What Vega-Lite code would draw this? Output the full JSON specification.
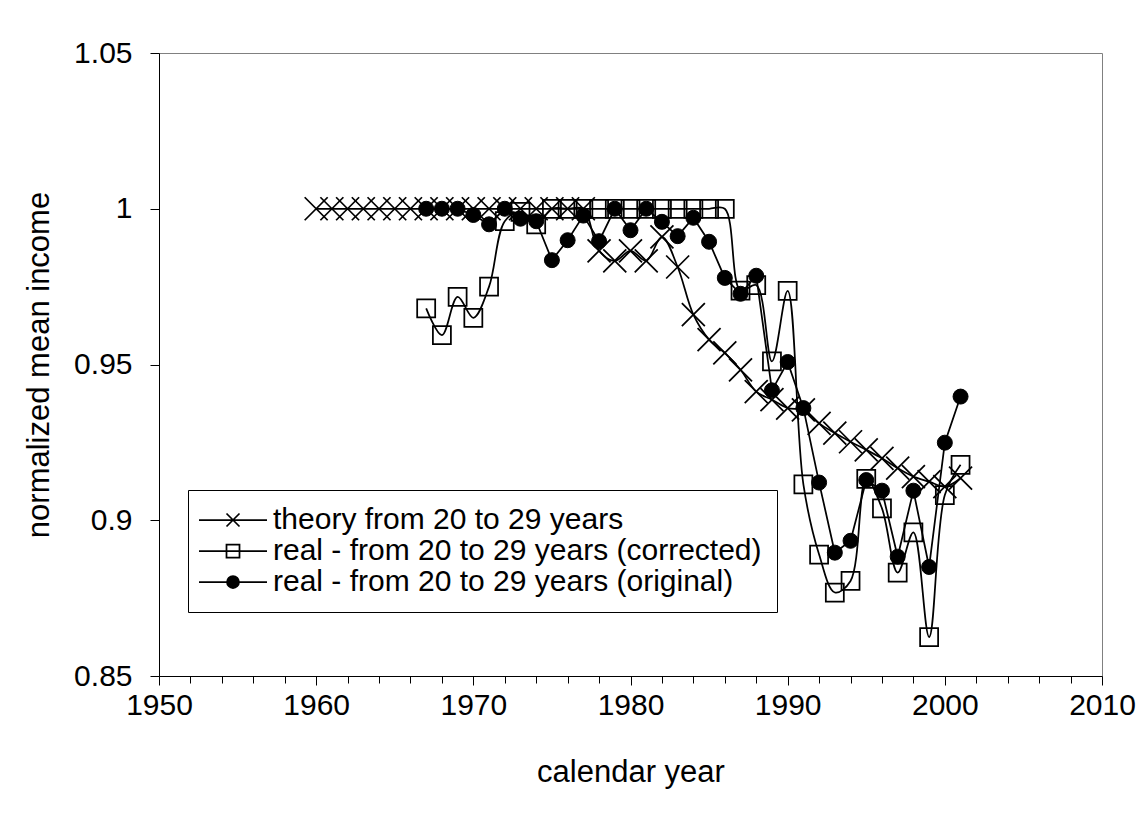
{
  "$schema": "https://vega.github.io/schema/vega-lite/v6.json",
  "autosize": {"type": "none"},
  "width": 943,
  "height": 623,
  "padding": {"left": 159, "top": 53, "right": 39, "bottom": 161},
  "background": "white",
  "config": {
    "view": {"stroke": "#808080", "strokeWidth": 1},
    "font": "Liberation Sans",
    "axis": {
      "grid": false,
      "domainColor": "black",
      "tickColor": "black",
      "labelColor": "black",
      "titleColor": "black",
      "labelFont": "Liberation Sans",
      "titleFont": "Liberation Sans",
      "labelFontSize": 30,
      "titleFontSize": 31,
      "titleFontWeight": "normal"
    },
    "legend": {
      "orient": "none",
      "legendX": 29,
      "legendY": 437,
      "padding": 15,
      "symbolSize": 100,
      "symbolStrokeWidth": 1.75,
      "symbolStrokeColor": "black",
      "symbolOffset": 15,
      "labelOffset": 25,
      "labelFont": "Liberation Sans",
      "labelFontSize": 30,
      "labelColor": "black",
      "labelLimit": 1000,
      "rowPadding": 1,
      "strokeColor": "black",
      "fillColor": "white"
    }
  },
  "data": {
    "values": [
      {"year": 1960, "series": "theory from 20 to 29 years", "value": 1.0},
      {"year": 1961, "series": "theory from 20 to 29 years", "value": 1.0},
      {"year": 1962, "series": "theory from 20 to 29 years", "value": 1.0},
      {"year": 1963, "series": "theory from 20 to 29 years", "value": 1.0},
      {"year": 1964, "series": "theory from 20 to 29 years", "value": 1.0},
      {"year": 1965, "series": "theory from 20 to 29 years", "value": 1.0},
      {"year": 1966, "series": "theory from 20 to 29 years", "value": 1.0},
      {"year": 1967, "series": "theory from 20 to 29 years", "value": 1.0},
      {"year": 1968, "series": "theory from 20 to 29 years", "value": 1.0},
      {"year": 1969, "series": "theory from 20 to 29 years", "value": 1.0},
      {"year": 1970, "series": "theory from 20 to 29 years", "value": 1.0},
      {"year": 1971, "series": "theory from 20 to 29 years", "value": 1.0},
      {"year": 1972, "series": "theory from 20 to 29 years", "value": 1.0},
      {"year": 1973, "series": "theory from 20 to 29 years", "value": 1.0},
      {"year": 1974, "series": "theory from 20 to 29 years", "value": 1.0},
      {"year": 1975, "series": "theory from 20 to 29 years", "value": 1.0},
      {"year": 1976, "series": "theory from 20 to 29 years", "value": 1.0},
      {"year": 1977, "series": "theory from 20 to 29 years", "value": 1.0},
      {"year": 1978, "series": "theory from 20 to 29 years", "value": 0.9865},
      {"year": 1979, "series": "theory from 20 to 29 years", "value": 0.9833},
      {"year": 1980, "series": "theory from 20 to 29 years", "value": 0.9865},
      {"year": 1981, "series": "theory from 20 to 29 years", "value": 0.9833},
      {"year": 1982, "series": "theory from 20 to 29 years", "value": 0.991},
      {"year": 1983, "series": "theory from 20 to 29 years", "value": 0.9813},
      {"year": 1984, "series": "theory from 20 to 29 years", "value": 0.966},
      {"year": 1985, "series": "theory from 20 to 29 years", "value": 0.958},
      {"year": 1986, "series": "theory from 20 to 29 years", "value": 0.9537},
      {"year": 1987, "series": "theory from 20 to 29 years", "value": 0.9483},
      {"year": 1988, "series": "theory from 20 to 29 years", "value": 0.9413},
      {"year": 1989, "series": "theory from 20 to 29 years", "value": 0.9387},
      {"year": 1990, "series": "theory from 20 to 29 years", "value": 0.936},
      {"year": 1991, "series": "theory from 20 to 29 years", "value": 0.9354},
      {"year": 1992, "series": "theory from 20 to 29 years", "value": 0.9311},
      {"year": 1993, "series": "theory from 20 to 29 years", "value": 0.928},
      {"year": 1994, "series": "theory from 20 to 29 years", "value": 0.9252},
      {"year": 1995, "series": "theory from 20 to 29 years", "value": 0.9226},
      {"year": 1996, "series": "theory from 20 to 29 years", "value": 0.9199},
      {"year": 1997, "series": "theory from 20 to 29 years", "value": 0.9167},
      {"year": 1998, "series": "theory from 20 to 29 years", "value": 0.914},
      {"year": 1999, "series": "theory from 20 to 29 years", "value": 0.9124},
      {"year": 2000, "series": "theory from 20 to 29 years", "value": 0.9108},
      {"year": 2001, "series": "theory from 20 to 29 years", "value": 0.9135},

      {"year": 1967, "series": "real - from 20 to 29 years (corrected)", "value": 0.968},
      {"year": 1968, "series": "real - from 20 to 29 years (corrected)", "value": 0.9594},
      {"year": 1969, "series": "real - from 20 to 29 years (corrected)", "value": 0.9717},
      {"year": 1970, "series": "real - from 20 to 29 years (corrected)", "value": 0.965},
      {"year": 1971, "series": "real - from 20 to 29 years (corrected)", "value": 0.975},
      {"year": 1972, "series": "real - from 20 to 29 years (corrected)", "value": 0.996},
      {"year": 1973, "series": "real - from 20 to 29 years (corrected)", "value": 0.999},
      {"year": 1974, "series": "real - from 20 to 29 years (corrected)", "value": 0.995},
      {"year": 1975, "series": "real - from 20 to 29 years (corrected)", "value": 1.0},
      {"year": 1976, "series": "real - from 20 to 29 years (corrected)", "value": 1.0},
      {"year": 1977, "series": "real - from 20 to 29 years (corrected)", "value": 1.0},
      {"year": 1978, "series": "real - from 20 to 29 years (corrected)", "value": 1.0},
      {"year": 1979, "series": "real - from 20 to 29 years (corrected)", "value": 1.0},
      {"year": 1980, "series": "real - from 20 to 29 years (corrected)", "value": 1.0},
      {"year": 1981, "series": "real - from 20 to 29 years (corrected)", "value": 1.0},
      {"year": 1982, "series": "real - from 20 to 29 years (corrected)", "value": 1.0},
      {"year": 1983, "series": "real - from 20 to 29 years (corrected)", "value": 1.0},
      {"year": 1984, "series": "real - from 20 to 29 years (corrected)", "value": 1.0},
      {"year": 1985, "series": "real - from 20 to 29 years (corrected)", "value": 1.0},
      {"year": 1986, "series": "real - from 20 to 29 years (corrected)", "value": 1.0},
      {"year": 1987, "series": "real - from 20 to 29 years (corrected)", "value": 0.9737},
      {"year": 1988, "series": "real - from 20 to 29 years (corrected)", "value": 0.9755},
      {"year": 1989, "series": "real - from 20 to 29 years (corrected)", "value": 0.951},
      {"year": 1990, "series": "real - from 20 to 29 years (corrected)", "value": 0.9736},
      {"year": 1991, "series": "real - from 20 to 29 years (corrected)", "value": 0.9115},
      {"year": 1992, "series": "real - from 20 to 29 years (corrected)", "value": 0.889},
      {"year": 1993, "series": "real - from 20 to 29 years (corrected)", "value": 0.8768},
      {"year": 1994, "series": "real - from 20 to 29 years (corrected)", "value": 0.8805},
      {"year": 1995, "series": "real - from 20 to 29 years (corrected)", "value": 0.9133},
      {"year": 1996, "series": "real - from 20 to 29 years (corrected)", "value": 0.9038},
      {"year": 1997, "series": "real - from 20 to 29 years (corrected)", "value": 0.8832},
      {"year": 1998, "series": "real - from 20 to 29 years (corrected)", "value": 0.8961},
      {"year": 1999, "series": "real - from 20 to 29 years (corrected)", "value": 0.8625},
      {"year": 2000, "series": "real - from 20 to 29 years (corrected)", "value": 0.9081},
      {"year": 2001, "series": "real - from 20 to 29 years (corrected)", "value": 0.9178},

      {"year": 1967, "series": "real - from 20 to 29 years (original)", "value": 1.0},
      {"year": 1968, "series": "real - from 20 to 29 years (original)", "value": 1.0},
      {"year": 1969, "series": "real - from 20 to 29 years (original)", "value": 1.0},
      {"year": 1970, "series": "real - from 20 to 29 years (original)", "value": 0.998},
      {"year": 1971, "series": "real - from 20 to 29 years (original)", "value": 0.995},
      {"year": 1972, "series": "real - from 20 to 29 years (original)", "value": 1.0},
      {"year": 1973, "series": "real - from 20 to 29 years (original)", "value": 0.9968},
      {"year": 1974, "series": "real - from 20 to 29 years (original)", "value": 0.996},
      {"year": 1975, "series": "real - from 20 to 29 years (original)", "value": 0.9835},
      {"year": 1976, "series": "real - from 20 to 29 years (original)", "value": 0.9899},
      {"year": 1977, "series": "real - from 20 to 29 years (original)", "value": 0.9978},
      {"year": 1978, "series": "real - from 20 to 29 years (original)", "value": 0.9896},
      {"year": 1979, "series": "real - from 20 to 29 years (original)", "value": 1.0},
      {"year": 1980, "series": "real - from 20 to 29 years (original)", "value": 0.9931},
      {"year": 1981, "series": "real - from 20 to 29 years (original)", "value": 1.0},
      {"year": 1982, "series": "real - from 20 to 29 years (original)", "value": 0.9958},
      {"year": 1983, "series": "real - from 20 to 29 years (original)", "value": 0.9912},
      {"year": 1984, "series": "real - from 20 to 29 years (original)", "value": 0.9971},
      {"year": 1985, "series": "real - from 20 to 29 years (original)", "value": 0.9894},
      {"year": 1986, "series": "real - from 20 to 29 years (original)", "value": 0.9778},
      {"year": 1987, "series": "real - from 20 to 29 years (original)", "value": 0.9727},
      {"year": 1988, "series": "real - from 20 to 29 years (original)", "value": 0.9785},
      {"year": 1989, "series": "real - from 20 to 29 years (original)", "value": 0.9417},
      {"year": 1990, "series": "real - from 20 to 29 years (original)", "value": 0.9508},
      {"year": 1991, "series": "real - from 20 to 29 years (original)", "value": 0.936},
      {"year": 1992, "series": "real - from 20 to 29 years (original)", "value": 0.9121},
      {"year": 1993, "series": "real - from 20 to 29 years (original)", "value": 0.8896},
      {"year": 1994, "series": "real - from 20 to 29 years (original)", "value": 0.8934},
      {"year": 1995, "series": "real - from 20 to 29 years (original)", "value": 0.9129},
      {"year": 1996, "series": "real - from 20 to 29 years (original)", "value": 0.9095},
      {"year": 1997, "series": "real - from 20 to 29 years (original)", "value": 0.8883},
      {"year": 1998, "series": "real - from 20 to 29 years (original)", "value": 0.9095},
      {"year": 1999, "series": "real - from 20 to 29 years (original)", "value": 0.885},
      {"year": 2000, "series": "real - from 20 to 29 years (original)", "value": 0.9249},
      {"year": 2001, "series": "real - from 20 to 29 years (original)", "value": 0.9397}
    ]
  },
  "encoding": {
    "x": {
      "field": "year",
      "type": "quantitative",
      "scale": {"domain": [1950, 2010], "nice": false, "zero": false},
      "axis": {
        "title": "calendar year",
        "values": [1950, 1952, 1954, 1956, 1958, 1960, 1962, 1964, 1966, 1968, 1970, 1972, 1974, 1976, 1978, 1980, 1982, 1984, 1986, 1988, 1990, 1992, 1994, 1996, 1998, 2000, 2002, 2004, 2006, 2008, 2010],
        "labelExpr": "datum.value % 10 === 0 ? '' + datum.value : ''",
        "labelOverlap": false,
        "labelFlush": false,
        "tickSize": {"condition": {"test": "datum.value % 10 === 0", "value": 9}, "value": 7},
        "labelPadding": 5,
        "titlePadding": 37
      }
    },
    "y": {
      "field": "value",
      "type": "quantitative",
      "scale": {"domain": [0.85, 1.05], "nice": false, "zero": false},
      "axis": {
        "title": "normalized mean income",
        "values": [0.85, 0.9, 0.95, 1, 1.05],
        "labelExpr": "'' + datum.value",
        "tickSize": 9,
        "labelPadding": 18,
        "titlePadding": 18
      }
    }
  },
  "layer": [
    {
      "transform": [{"filter": "datum.series === 'theory from 20 to 29 years'"}],
      "mark": {"type": "line", "interpolate": "catmull-rom", "color": "black", "strokeWidth": 1.75}
    },
    {
      "transform": [{"filter": "datum.series === 'theory from 20 to 29 years'"}],
      "mark": {"type": "point", "shape": "M-1,-1L1,1M-1,1L1,-1", "size": 529, "filled": false, "stroke": "black", "strokeWidth": 1.75, "opacity": 1}
    },
    {
      "transform": [{"filter": "datum.series === 'real - from 20 to 29 years (corrected)'"}],
      "mark": {"type": "line", "interpolate": "catmull-rom", "color": "black", "strokeWidth": 1.75}
    },
    {
      "transform": [{"filter": "datum.series === 'real - from 20 to 29 years (corrected)'"}],
      "mark": {"type": "point", "shape": "square", "size": 324, "filled": false, "stroke": "black", "strokeWidth": 1.75, "opacity": 1}
    },
    {
      "transform": [{"filter": "datum.series === 'real - from 20 to 29 years (original)'"}],
      "mark": {"type": "line", "interpolate": "linear", "color": "black", "strokeWidth": 1.75}
    },
    {
      "transform": [{"filter": "datum.series === 'real - from 20 to 29 years (original)'"}],
      "mark": {"type": "point", "shape": "circle", "size": 225, "filled": true, "fill": "black", "stroke": "black", "strokeWidth": 1, "opacity": 1}
    },
    {
      "transform": [{"filter": "datum.year < 0"}],
      "mark": {"type": "point", "filled": false, "strokeWidth": 1.75, "opacity": 1},
      "encoding": {
        "shape": {
          "field": "series",
          "type": "nominal",
          "scale": {
            "domain": ["theory from 20 to 29 years", "real - from 20 to 29 years (corrected)", "real - from 20 to 29 years (original)"],
            "range": [
              "M-6.8,0H6.8M-1.3,-1.3L1.3,1.3M-1.3,1.3L1.3,-1.3",
              "M-6.8,0H6.8M-1.3,-1.3H1.3V1.3H-1.3Z",
              "M-6.8,0H-1.2M1.2,0H6.8M-1.2,0A1.2,1.2,0,1,0,1.2,0A1.2,1.2,0,1,0,-1.2,0Z"
            ]
          },
          "legend": {"title": null}
        },
        "fill": {
          "field": "series",
          "type": "nominal",
          "scale": {
            "domain": ["theory from 20 to 29 years", "real - from 20 to 29 years (corrected)", "real - from 20 to 29 years (original)"],
            "range": ["transparent", "transparent", "black"]
          },
          "legend": {"title": null}
        },
        "stroke": {
          "field": "series",
          "type": "nominal",
          "scale": {
            "domain": ["theory from 20 to 29 years", "real - from 20 to 29 years (corrected)", "real - from 20 to 29 years (original)"],
            "range": ["black", "black", "black"]
          },
          "legend": {"title": null}
        }
      }
    }
  ]
}
